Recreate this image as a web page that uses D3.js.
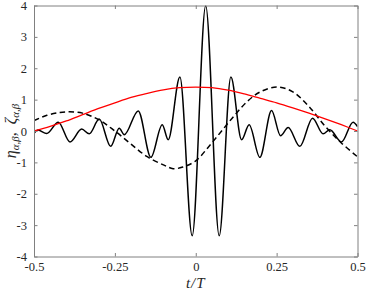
<!DOCTYPE html>
<html>
<head>
<meta charset="utf-8">
<script src="https://cdn.jsdelivr.net/npm/d3@7"></script>
<style>
  body { margin: 0; background: #fff; }
  text { font-family: "Liberation Serif", "DejaVu Serif", serif; fill: #262626; }
</style>
</head>
<body>
<svg id="chart" width="366" height="295"></svg>
<script>
// -- data -- //
const xTicks = [-0.5, -0.25, 0, 0.25, 0.5];
const xTickLabels = ["-0.5", "-0.25", "0", "0.25", "0.5"];
const yTicks = [-4, -3, -2, -1, 0, 1, 2, 3, 4];

// solid black curve: turning points
const solidT = [-0.5, -0.4876, -0.4608, -0.4249, -0.3888, -0.3526, -0.3292, -0.2983, -0.263, -0.2365, -0.221,
  -0.1778, -0.1386, -0.1036, -0.0851, -0.049, -0.011, 0.0307, 0.0725, 0.1086, 0.1417, 0.1651, 0.1982,
  0.2343, 0.2621, 0.2857, 0.3218, 0.361, 0.3937, 0.4144, 0.4506, 0.4864, 0.5];
const solidV = [-0.07, 0.03, -0.08, 0.28, -0.35, 0.06, -0.09, 0.38, -0.49, 0.09, -0.12,
  0.64, -0.84, 0.2, -0.28, 1.72, -3.34, 3.99, -3.34, 1.72, -0.28, 0.2, -0.84,
  0.65, -0.15, 0.11, -0.49, 0.41, -0.09, 0.04, -0.35, 0.28, 0.14];

// dashed black curve
const dashT = [-0.5, -0.46, -0.42, -0.39, -0.35, -0.3, -0.25, -0.2, -0.15, -0.1, -0.07, -0.04, 0,
  0.04, 0.08, 0.12, 0.16, 0.2, 0.25, 0.3, 0.35, 0.4, 0.45, 0.5];
const dashV = [0.33, 0.5, 0.59, 0.61, 0.57, 0.36, 0.0, -0.42, -0.82, -1.08, -1.2, -1.15, -0.95,
  -0.5, 0.0, 0.5, 0.95, 1.25, 1.4, 1.25, 0.78, 0.15, -0.38, -0.82];

// red curve
const redT = [-0.5, -0.45, -0.4, -0.35, -0.3, -0.25, -0.2, -0.15, -0.1, -0.05, 0,
  0.05, 0.1, 0.15, 0.2, 0.25, 0.3, 0.35, 0.4, 0.45, 0.5];
const redV = [0.0, 0.15, 0.32, 0.52, 0.72, 0.9, 1.07, 1.2, 1.31, 1.38, 1.4,
  1.38, 1.3, 1.18, 1.04, 0.9, 0.74, 0.57, 0.39, 0.2, 0.0];

// -- layout -- //
const plotLeft = 34, plotRight = 357.5, plotTop = 5.5, plotBottom = 256.5;
const tickLen = 3.5;

const svg = d3.select("#chart");
const xScale = d3.scaleLinear().domain([-0.5, 0.5]).range([plotLeft, plotRight]);
const yScale = d3.scaleLinear().domain([-4, 4]).range([plotBottom, plotTop]);

svg.append("defs").append("clipPath").attr("id", "plotClip")
  .append("rect").attr("x", plotLeft).attr("y", plotTop)
  .attr("width", plotRight - plotLeft).attr("height", plotBottom - plotTop);

const toPoints = (ts, vs) => ts.map((t, i) => ({ t: t, v: vs[i] }));

let line = d3.line()
  .x(d => xScale(d.t))
  .y(d => yScale(d.v));

let plot = svg.append("g").attr("clip-path", "url(#plotClip)");

// -- solid curve -- //
plot.append("path")
  .datum(toPoints(solidT, solidV))
  .attr("d", line.curve(d3.curveMonotoneX))
  .style("fill", "none")
  .style("stroke", "#000")
  .style("stroke-width", 1.5);

// -- dashed curve -- //
plot.append("path")
  .datum(toPoints(dashT, dashV))
  .attr("d", line.curve(d3.curveCatmullRom))
  .style("fill", "none")
  .style("stroke", "#000")
  .style("stroke-width", 1.5)
  .style("stroke-dasharray", "5.5,3.5");

// -- red curve -- //
plot.append("path")
  .datum(toPoints(redT, redV))
  .attr("d", line.curve(d3.curveCatmullRom))
  .style("fill", "none")
  .style("stroke", "#ff0000")
  .style("stroke-width", 1.3);

// -- axes (box with inward ticks) -- //
let axisColor = "#808080";
let xAxis = d3.axisBottom(xScale).tickValues(xTicks).tickFormat((d, i) => xTickLabels[i])
  .tickSizeInner(-tickLen).tickSizeOuter(0).tickPadding(6);
let yAxis = d3.axisLeft(yScale).tickValues(yTicks).tickFormat(d => d)
  .tickSizeInner(-tickLen).tickSizeOuter(0).tickPadding(7);
let xAxisTop = d3.axisTop(xScale).tickValues(xTicks).tickFormat("")
  .tickSizeInner(-tickLen).tickSizeOuter(0);
let yAxisRight = d3.axisRight(yScale).tickValues(yTicks).tickFormat("")
  .tickSizeInner(-tickLen).tickSizeOuter(0);

let gx = svg.append("g").attr("transform", `translate(0, ${plotBottom})`).call(xAxis);
let gy = svg.append("g").attr("transform", `translate(${plotLeft}, 0)`).call(yAxis);
let gxt = svg.append("g").attr("transform", `translate(0, ${plotTop})`).call(xAxisTop);
let gyr = svg.append("g").attr("transform", `translate(${plotRight}, 0)`).call(yAxisRight);

[gx, gy, gxt, gyr].forEach(g => {
  g.selectAll("path").style("stroke", axisColor);
  g.selectAll("line").style("stroke", axisColor);
  g.selectAll("text")
    .style("font-family", "'Liberation Serif', serif")
    .style("font-size", "12.5px")
    .style("fill", "#262626");
});

// -- axis labels -- //
svg.append("text")
  .attr("x", (plotLeft + plotRight) / 2)
  .attr("y", 288)
  .attr("text-anchor", "middle")
  .style("font-size", "15px")
  .style("font-style", "italic")
  .style("letter-spacing", "1px")
  .text("t/T");

let yLab = svg.append("text")
  .attr("transform", `translate(16, ${(plotTop + plotBottom) / 2}) rotate(-90)`)
  .attr("text-anchor", "middle")
  .style("font-size", "16px")
  .style("font-style", "italic");
yLab.append("tspan").text("η");
yLab.append("tspan").attr("dy", 3).style("font-size", "11px").text("α,β");
yLab.append("tspan").attr("dy", -3).style("font-style", "normal").text(",\u00a0\u00a0");
yLab.append("tspan").text("ζ");
yLab.append("tspan").attr("dy", 3).style("font-size", "11px").text("α,β");
</script>
</body>
</html>
